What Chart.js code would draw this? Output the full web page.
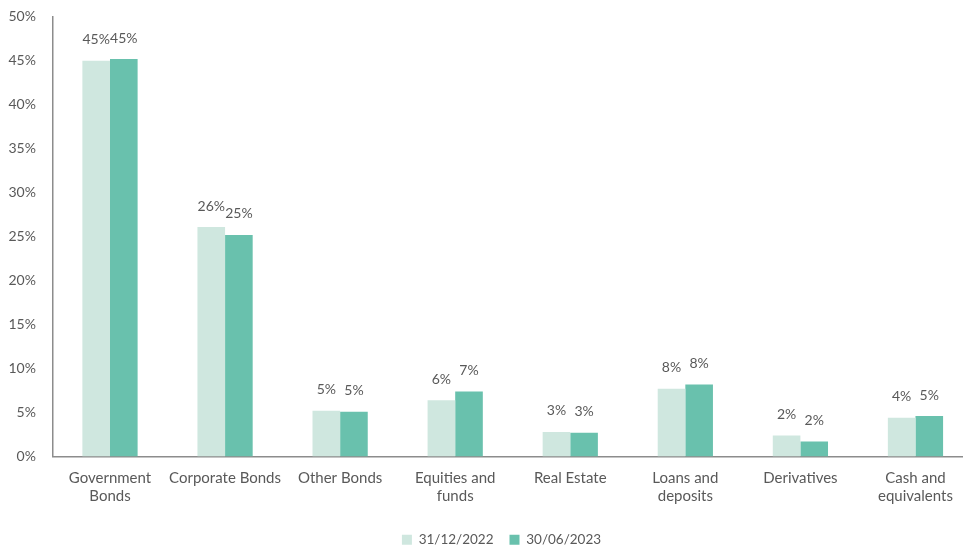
<!DOCTYPE html>
<html>
<head>
<meta charset="utf-8">
<script src="https://cdn.jsdelivr.net/npm/chart.js@4.4.1/dist/chart.umd.min.js"></script>
<style>
  html, body { margin: 0; padding: 0; background: #fff; overflow: hidden; }
  #wrap { width: 973px; height: 545px; }
</style>
</head>
<body>
<div id="wrap"><canvas id="alloc-chart" width="973" height="545"></canvas></div>
<script>
const categories = [
  ["Government", "Bonds"], "Corporate Bonds", "Other Bonds", ["Equities and", "funds"],
  "Real Estate", ["Loans and", "deposits"], "Derivatives", ["Cash and", "equivalents"]
];
const seriesNames = ["31/12/2022", "30/06/2023"];
const dec2022 = [45.0, 26.1, 5.2, 6.4, 2.8, 7.7, 2.4, 4.4];
const jun2023 = [45.2, 25.2, 5.1, 7.4, 2.7, 8.2, 1.7, 4.6];
const yTicks = [0, 5, 10, 15, 20, 25, 30, 35, 40, 45, 50];

const textColor = "#595959";
const fontFamily = "Lato, 'Liberation Sans', sans-serif";

// simple value labels above each bar
const barLabels = {
  id: "barLabels",
  afterDatasetsDraw(chart) {
    const c = chart.ctx;
    c.save();
    c.font = "14px " + fontFamily;
    c.fillStyle = textColor;
    c.textAlign = "center";
    c.textBaseline = "middle";
    chart.data.datasets.forEach((ds, i) => {
      chart.getDatasetMeta(i).data.forEach((bar, j) => {
        c.fillText(Math.round(ds.data[j]) + "%", bar.x, bar.y - 21);
      });
    });
    c.restore();
  }
};

// legend in the original sits a little right of centre and lower
const legendShift = {
  id: "legendShift",
  afterLayout(chart) {
    const lg = chart.legend;
    lg.left += 15;
    lg.right += 15;
    lg.top += 7;
    lg.bottom += 7;
  }
};

const ctx = document.getElementById("alloc-chart").getContext("2d");

new Chart(ctx, {
  type: "bar",
  data: {
    labels: categories,
    datasets: [
      {
        label: seriesNames[0],
        data: dec2022,
        backgroundColor: "#cfe7df",
        categoryPercentage: 0.48,
        barPercentage: 1.0
      },
      {
        label: seriesNames[1],
        data: jun2023,
        backgroundColor: "#69c1ad",
        categoryPercentage: 0.48,
        barPercentage: 1.0
      }
    ]
  },
  options: {
    responsive: false,
    animation: false,
    layout: { padding: { top: 7, left: 0, right: 0, bottom: -4.5 } },
    plugins: {
      legend: {
        position: "bottom",
        labels: {
          boxWidth: 10,
          boxHeight: 10,
          padding: 16,
          color: textColor,
          font: { family: fontFamily, size: 13.5 }
        }
      },
      tooltip: { enabled: false }
    },
    scales: {
      x: {
        grid: { display: false },
        border: { color: "#8c8c8c", width: 1.5 },
        ticks: {
          color: textColor,
          padding: 4,
          maxRotation: 0,
          autoSkip: false,
          font: { family: fontFamily, size: 15, lineHeight: 1.25 }
        }
      },
      y: {
        min: 0,
        max: 50,
        afterBuildTicks(axis) { axis.ticks = yTicks.map(v => ({ value: v })); },
        grid: { display: false },
        border: { color: "#8c8c8c", width: 1.5 },
        ticks: {
          color: textColor,
          padding: 8.5,
          font: { family: fontFamily, size: 14 },
          callback: v => v + "%"
        }
      }
    }
  },
  plugins: [barLabels, legendShift]
});
</script>
</body>
</html>
